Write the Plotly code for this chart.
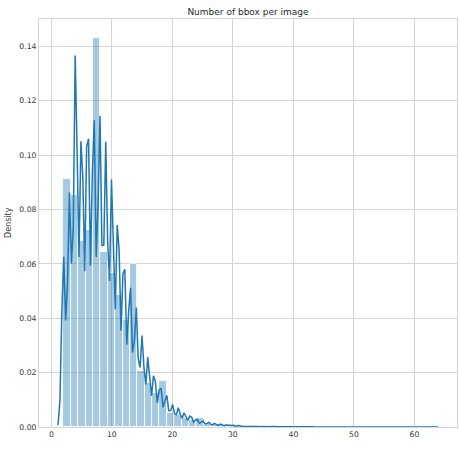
import numpy as np
import plotly.graph_objects as go

# ---- data: number of images having a given number of bboxes ----
bbox_per_image = list(range(2, 64))
image_counts = [
    4700, 6400, 10370, 8300, 8800, 8780, 8580, 7800, 6900, 5900,   # 2..11
    4800, 3980, 3290, 2500, 1950, 1500, 1170, 900, 620, 530,       # 12..21
    400, 320, 220, 170, 130, 100, 80, 60, 50, 40,                  # 22..31
    30, 25, 20, 18, 15, 13, 11, 10, 9, 8,                          # 32..41
    7, 7, 6, 6, 5, 5, 4, 4, 4, 3,                                  # 42..51
    3, 3, 2, 2, 2, 2, 1, 1, 1, 1,                                  # 52..61
    1, 1,                                                          # 62..63
]
x_tick_values = [0, 10, 20, 30, 40, 50, 60]
y_tick_values = [0.00, 0.02, 0.04, 0.06, 0.08, 0.10, 0.12, 0.14]
title_text = "Number of bbox per image"
y_label = "Density"

# statistics settings (as in seaborn distplot)
n_bins = 50
kde_bw = 0.30
kde_gridsize = 200
kde_cut = 3

vals = np.array(bbox_per_image, dtype=float)
wts = np.array(image_counts, dtype=float)

dens, edges = np.histogram(vals, bins=n_bins, range=(vals.min(), vals.max()),
                           weights=wts, density=True)
centers = (edges[:-1] + edges[1:]) / 2
widths = np.diff(edges)

grid = np.linspace(vals.min() - kde_cut * kde_bw, vals.max() + kde_cut * kde_bw, kde_gridsize)
kde = (wts[None, :] * np.exp(-0.5 * ((grid[:, None] - vals[None, :]) / kde_bw) ** 2)).sum(axis=1)
kde = kde / (wts.sum() * kde_bw * np.sqrt(2 * np.pi))

span = grid[-1] - grid[0]
x_range = [grid[0] - 0.05 * span, grid[-1] + 0.05 * span]
y_range = [0, 1.05 * max(dens.max(), kde.max())]

BLUE = "#1f77b4"
GRID = "#d5d5d5"
TXT = "#3a3a3a"
FONT = "DejaVu Sans"

fig = go.Figure()
fig.add_trace(go.Bar(
    x=centers, y=dens, width=widths,
    marker=dict(color="rgba(31,119,180,0.4)", line=dict(color="white", width=0.8)),
    hoverinfo="skip", showlegend=False,
))
fig.add_trace(go.Scatter(
    x=grid, y=kde, mode="lines",
    line=dict(color=BLUE, width=1.5),
    showlegend=False,
))

W, H = 460, 451
ml, mr, mt, mb = 39, 3, 19, 24
fig.update_layout(
    width=W, height=H,
    margin=dict(l=ml, r=mr, t=mt, b=mb),
    paper_bgcolor="white", plot_bgcolor="white",
    bargap=0,
    font=dict(family=FONT, color=TXT, size=8),
    title=dict(text=title_text, x=0.5, xref="paper", xanchor="center",
               y=1 - 11.5 / H, yref="container", yanchor="middle",
               font=dict(family=FONT, size=9, color="#2a2a2a")),
    xaxis=dict(range=x_range, tickvals=x_tick_values, ticktext=[str(v) for v in x_tick_values],
               showgrid=True, gridcolor=GRID, gridwidth=1, zeroline=False,
               showline=True, linecolor=GRID, linewidth=1, mirror=True,
               ticks="", tickfont=dict(size=7.7, color=TXT)),
    yaxis=dict(range=y_range, tickvals=y_tick_values, ticktext=[f"{v:.2f}" for v in y_tick_values],
               showgrid=True, gridcolor=GRID, gridwidth=1, zeroline=False,
               showline=True, linecolor=GRID, linewidth=1, mirror=True,
               ticks="", tickfont=dict(size=7.7, color=TXT)),
    annotations=[dict(text=y_label, xref="paper", yref="paper",
                      x=(8 - ml) / (W - ml - mr), y=0.5, xanchor="center", yanchor="middle",
                      textangle=-90, showarrow=False,
                      font=dict(family=FONT, size=8, color=TXT))],
)

fig.write_html("out.html",
               config={"displayModeBar": False},
               post_script="document.body.style.margin='0';document.body.style.padding='0';")
